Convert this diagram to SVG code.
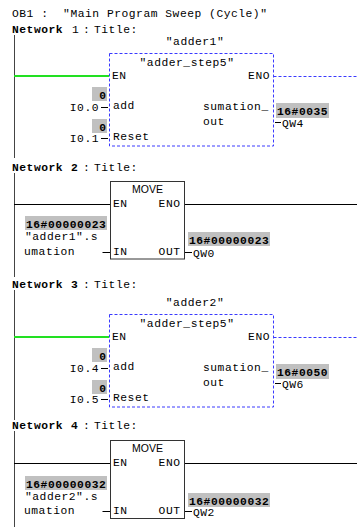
<svg xmlns="http://www.w3.org/2000/svg" width="357" height="527" viewBox="0 0 357 527">
<style>
text{font-family:"Liberation Mono","Courier New","DejaVu Sans Mono",monospace;font-size:11.3px;letter-spacing:0.52px;fill:#000;white-space:pre}
.b{font-weight:bold}
.s{font-family:"Liberation Sans",Arial,sans-serif;font-size:10.5px;letter-spacing:0}
.e{text-anchor:end}
.m{text-anchor:middle}
.g{fill:#c0c0c0}
.db{fill:none;stroke:#3a3aff;stroke-width:1;stroke-dasharray:3 2}
.bx{fill:#fff;stroke:#333;stroke-width:1}
.w{stroke:#000;stroke-width:1;fill:none}
.rl{stroke:#444;stroke-width:1;fill:none}
.gr{stroke:#22e022;stroke-width:2;fill:none}
</style>
<rect width="357" height="527" fill="#fff"/>
<text x="12" y="17" xml:space="preserve">OB1 :  "Main Program Sweep (Cycle)"</text>

<g id="headers">
<text y="33"><tspan x="12" class="b">Network</tspan><tspan x="72">1</tspan><tspan x="83">:</tspan><tspan x="94">Title:</tspan></text>
<text y="171"><tspan x="12" class="b">Network</tspan><tspan x="71" class="b">2</tspan><tspan x="83">:</tspan><tspan x="94">Title:</tspan></text>
<text y="288"><tspan x="12" class="b">Network</tspan><tspan x="71" class="b">3</tspan><tspan x="83">:</tspan><tspan x="94">Title:</tspan></text>
<text y="429"><tspan x="12" class="b">Network</tspan><tspan x="71" class="b">4</tspan><tspan x="83">:</tspan><tspan x="94">Title:</tspan></text>
</g>

<g id="connectors">
<path class="rl" d="M14.5 35V158M14.5 173V277M14.5 290V420M14.5 431V527"/>
<path class="gr" d="M14 76H109"/>
<path class="db" d="M273.5 76.5H357"/>
<path class="w" d="M101 107.5H108M101 138.5H108M275 122.5H281"/>
<path class="w" d="M14 204.5H110.5M184.5 204.5H357M102.5 252.5H110M184.5 252.5H192"/>
<path class="gr" d="M14 337H109"/>
<path class="db" d="M273.5 337.5H357"/>
<path class="w" d="M101 368.5H108M101 399.5H108M275 383.5H281"/>
<path class="w" d="M14 463.5H110.5M184.5 463.5H357M102.5 511.5H110M184.5 511.5H192"/>
</g>

<g id="adder1">
<text x="195" y="45" class="m">"adder1"</text>
<rect class="db" x="109.5" y="53.5" width="164" height="92.5"/>
<text x="187" y="66" class="m">"adder_step5"</text>
<text x="112" y="79">EN</text>
<text x="270" y="79" class="e">ENO</text>
<rect class="g" x="92" y="87" width="15" height="14"/>
<text x="106.5" y="99" class="b e">0</text>
<text x="99" y="111" class="e">I0.0</text>
<text x="113" y="109">add</text>
<text x="203" y="110">sumation_</text>
<text x="203" y="125">out</text>
<rect class="g" x="276" y="103" width="53" height="15"/>
<text x="277" y="115" class="b">16#0035</text>
<text x="282" y="127">QW4</text>
<rect class="g" x="92" y="119" width="15" height="14"/>
<text x="106.5" y="131" class="b e">0</text>
<text x="99" y="142" class="e">I0.1</text>
<text x="113" y="140">Reset</text>
</g>

<g id="move1">
<rect class="bx" x="110.5" y="181.5" width="74" height="77.5"/>
<text x="147.5" y="193" class="s m">MOVE</text>
<text x="113" y="207">EN</text>
<text x="180.5" y="207" class="e">ENO</text>
<rect class="g" x="25" y="216" width="82" height="14"/>
<text x="26" y="227.5" class="b">16#00000023</text>
<text x="25" y="240">"adder1".s</text>
<text x="24" y="255">umation</text>
<text x="113" y="255">IN</text>
<text x="180.5" y="255" class="e">OUT</text>
<rect class="g" x="188" y="232" width="82" height="14"/>
<text x="189" y="244" class="b">16#00000023</text>
<text x="193" y="257">QW0</text>
</g>

<g id="adder2">
<text x="195" y="306" class="m">"adder2"</text>
<rect class="db" x="109.5" y="314.5" width="164" height="92.5"/>
<text x="187" y="327" class="m">"adder_step5"</text>
<text x="112" y="340">EN</text>
<text x="270" y="340" class="e">ENO</text>
<rect class="g" x="92" y="348" width="15" height="14"/>
<text x="106.5" y="360" class="b e">0</text>
<text x="99" y="372" class="e">I0.4</text>
<text x="113" y="370">add</text>
<text x="203" y="371">sumation_</text>
<text x="203" y="386">out</text>
<rect class="g" x="276" y="364" width="53" height="15"/>
<text x="277" y="376" class="b">16#0050</text>
<text x="282" y="388">QW6</text>
<rect class="g" x="92" y="380" width="15" height="14"/>
<text x="106.5" y="392" class="b e">0</text>
<text x="99" y="403" class="e">I0.5</text>
<text x="113" y="401">Reset</text>
</g>

<g id="move2">
<rect class="bx" x="110.5" y="440.5" width="74" height="78"/>
<text x="147.5" y="452" class="s m">MOVE</text>
<text x="113" y="466">EN</text>
<text x="180.5" y="466" class="e">ENO</text>
<rect class="g" x="25" y="476" width="82" height="14"/>
<text x="26" y="487.5" class="b">16#00000032</text>
<text x="25" y="500">"adder2".s</text>
<text x="24" y="514">umation</text>
<text x="113" y="514">IN</text>
<text x="180.5" y="514" class="e">OUT</text>
<rect class="g" x="188" y="493" width="82" height="14"/>
<text x="189" y="505" class="b">16#00000032</text>
<text x="193" y="516">QW2</text>
</g>
</svg>
